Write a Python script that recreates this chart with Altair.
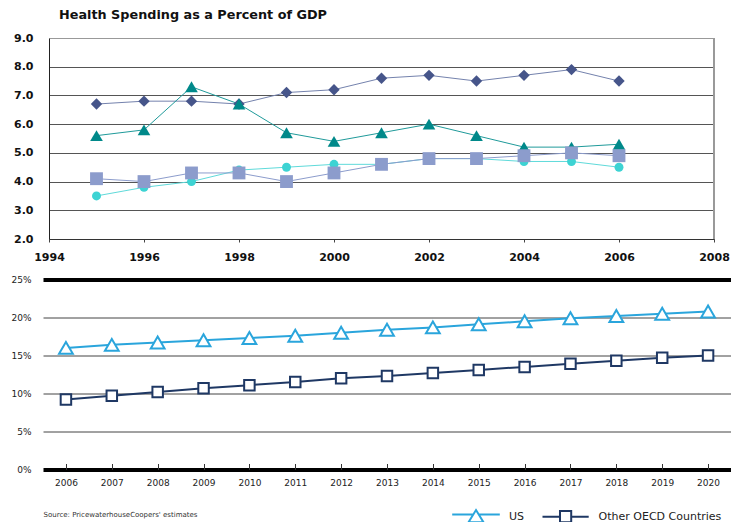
import altair as alt
import pandas as pd

# ---- upper panel: health spending as a percent of GDP, 1995-2006 ----
years_top = list(range(1995, 2007))
diamond_vals = [6.7, 6.8, 6.8, 6.7, 7.1, 7.2, 7.6, 7.7, 7.5, 7.7, 7.9, 7.5]
triangle_vals = [5.6, 5.8, 7.3, 6.7, 5.7, 5.4, 5.7, 6.0, 5.6, 5.2, 5.2, 5.3]
square_vals = [4.1, 4.0, 4.3, 4.3, 4.0, 4.3, 4.6, 4.8, 4.8, 4.9, 5.0, 4.9]
circle_vals = [3.5, 3.8, 4.0, 4.4, 4.5, 4.6, 4.6, 4.8, 4.8, 4.7, 4.7, 4.5]

top_x_ticks = [1994, 1996, 1998, 2000, 2002, 2004, 2006, 2008]
top_y_ticks = [2, 3, 4, 5, 6, 7, 8, 9]

# ---- lower panel: projected share of GDP, 2006-2020 ----
years_bottom = [str(y) for y in range(2006, 2021)]
us_vals = [16.0, 16.4, 16.7, 17.0, 17.3, 17.6, 18.0, 18.4, 18.7, 19.1, 19.5, 19.9, 20.2, 20.5, 20.8]
oecd_vals = [9.2, 9.7, 10.2, 10.7, 11.1, 11.5, 12.0, 12.3, 12.7, 13.1, 13.5, 13.9, 14.3, 14.7, 15.0]
bottom_y_ticks = [0, 5, 10, 15, 20, 25]
bottom_series = ["US", "Other OECD Countries"]
source_note = "Source: PricewaterhouseCoopers' estimates"

# ---------------------------------------------------------------------------
FONT = "DejaVu Sans"

top_styles = [
    # name, values, marker colour, line colour, shape, size
    ("s1", diamond_vals, "#46558a", "#7482ad", "diamond", 130),
    ("s2", triangle_vals, "#00898a", "#1f9a9a", "triangle-up", 160),
    ("s3", circle_vals, "#3dd3d3", "#5fdada", "circle", 80),
    ("s4", square_vals, "#8c9ccc", "#8c9ccc", "square", 165),
]

rows = []
for name, vals, *_ in top_styles:
    for y, v in zip(years_top, vals):
        rows.append({"year": y, "value": v, "series": name})
top_df = pd.DataFrame(rows)

TOP_W = 671     # plot frame; the value axis sits 6px inside its left edge
TOP_INSET = 6

x_top_scale = alt.Scale(domain=[1994, 2008], nice=False, zero=False, range=[TOP_INSET, TOP_W])
y_top_scale = alt.Scale(domain=[2, 9], nice=False, zero=False)
x_top_axis = alt.Axis(
    values=top_x_ticks, format="d", title=None, grid=False, labelFlush=False,
    labelFont=FONT, labelFontWeight="bold", labelFontSize=11, labelColor="#111",
    tickSize=3, tickColor="#444", domainColor="#333", labelPadding=9,
)
y_top_axis = alt.Axis(
    values=top_y_ticks, format=".1f", title=None, offset=-TOP_INSET,
    gridColor={"condition": {"test": "datum.value == 9", "value": "#999"}, "value": "#555"},
    gridWidth=1, ticks=False,
    domainColor="#222", labelPadding=16,
    labelFont=FONT, labelFontWeight="bold", labelFontSize=11, labelColor="#111",
)

top_base = alt.Chart(top_df).encode(
    x=alt.X("year:Q", scale=x_top_scale, axis=x_top_axis),
    y=alt.Y("value:Q", scale=y_top_scale, axis=y_top_axis),
)
top_layers = []
for name, _, mcol, lcol, shape, size in top_styles:
    sub = top_base.transform_filter(alt.datum.series == name)
    top_layers.append(sub.mark_line(color=lcol, strokeWidth=1))
for name, _, mcol, lcol, shape, size in top_styles:
    sub = top_base.transform_filter(alt.datum.series == name)
    top_layers.append(
        sub.mark_point(shape=shape, size=size, filled=True, color=mcol, opacity=1)
    )
# right-hand frame edge at the last year of the axis
top_layers.append(
    alt.Chart(top_df).mark_rule(color="#999", strokeWidth=1).encode(
        x=alt.X(datum=2008, scale=x_top_scale, axis=x_top_axis),
        y=alt.Y(datum=2, scale=y_top_scale, axis=y_top_axis),
        y2=alt.Y2(datum=9),
    )
)

top = alt.layer(*top_layers).properties(
    width=TOP_W,
    height=201,
    view=alt.ViewBackground(stroke=None),
    title=alt.TitleParams(
        "Health Spending as a Percent of GDP",
        anchor="start", frame="group", dx=16, offset=10.5,
        font=FONT, fontWeight="bold", fontSize=12.8, color="#111",
    ),
)

# ---------------------------------------------------------------------------
rows = []
for name, vals in zip(bottom_series, [us_vals, oecd_vals]):
    for y, v in zip(years_bottom, vals):
        rows.append({"year": y, "value": v, "series": name})
bottom_df = pd.DataFrame(rows)

US_COL = "#2aa5dc"
OECD_COL = "#1f3864"

edge = "datum.value == 0 || datum.value == 25"
x_bot = alt.X(
    "year:O",
    sort=years_bottom,
    scale=alt.Scale(type="point", padding=0.5),
    axis=alt.Axis(
        title=source_note, titleAnchor="start", titleAlign="left", titleBaseline="middle",
        titleX=0, titleY=51, titleFont=FONT, titleFontSize=7, titleFontWeight="normal",
        titleColor="#333",
        labelAngle=0, domain=False, grid=False,
        offset=-6, tickSize=6, tickColor="#333", labelPadding=8.5,
        labelFont=FONT, labelFontSize=9, labelColor="#222",
    ),
)
y_bot = alt.Y(
    "value:Q",
    scale=alt.Scale(domain=[0, 25], nice=False),
    axis=alt.Axis(
        values=bottom_y_ticks, labelExpr="datum.value + '%'", title=None,
        domain=False, ticks=False, labelPadding=12,
        gridColor={"condition": {"test": edge, "value": "#000"}, "value": "#444"},
        gridWidth={"condition": {"test": edge, "value": 4}, "value": 1},
        labelFont=FONT, labelFontSize=9, labelColor="#222",
    ),
)

bot_base = alt.Chart(bottom_df).encode(x=x_bot, y=y_bot)
us = bot_base.transform_filter(alt.datum.series == "US")
oecd = bot_base.transform_filter(alt.datum.series == "Other OECD Countries")

# legend glyphs: a short line run through an open marker
us_glyph = "M-3.4,-0.3H-0.38M0.38,-0.3H3.4M0,-0.95L1.07,0.8H-1.07Z"
oecd_glyph = "M-3.3,0H-0.8M0.8,0H3.3M-0.8,-0.8H0.8V0.8H-0.8Z"

legend = alt.Legend(
    title=None, orient="none", legendX=425, legendY=229, direction="horizontal",
    symbolSize=196, symbolStrokeWidth=2, symbolOpacity=1, labelOffset=25,
    columnPadding=12.6, padding=0,
    labelFont=FONT, labelFontSize=11, labelColor="#222",
)
legend_layer = bot_base.mark_point(strokeWidth=2, filled=False).encode(
    stroke=alt.Stroke(
        "series:N", scale=alt.Scale(domain=bottom_series, range=[US_COL, OECD_COL]),
        legend=legend,
    ),
    shape=alt.Shape(
        "series:N", scale=alt.Scale(domain=bottom_series, range=[us_glyph, oecd_glyph]),
        legend=legend,
    ),
).transform_filter("false")

bottom = alt.layer(
    us.mark_line(color=US_COL, strokeWidth=2),
    oecd.mark_line(color=OECD_COL, strokeWidth=2),
    us.mark_point(shape="triangle-up", size=190, filled=True, fill="white",
                  stroke=US_COL, strokeWidth=2, opacity=1),
    oecd.mark_point(shape="square", size=110, filled=True, fill="white",
                    stroke=OECD_COL, strokeWidth=2, opacity=1),
    legend_layer,
).properties(
    width=688,
    height=190,
    view=alt.ViewBackground(stroke=None),
)

chart = (
    alt.concat(top, bottom, columns=1, spacing=13.5)
    .resolve_legend(stroke="independent", shape="independent")
    .properties(
        padding={"left": 10, "top": 8, "right": 0, "bottom": 0},
        background="white",
    )
    .configure(font=FONT)
)

chart.save("out.html", embed_options={"renderer": "svg", "actions": False})
